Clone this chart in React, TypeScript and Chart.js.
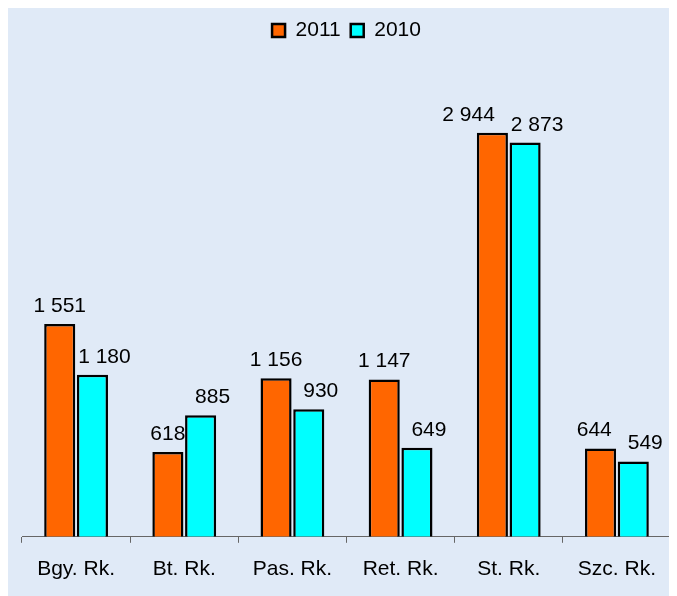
import React, { useEffect, useRef } from "react";
import { Chart, registerables } from "chart.js";

Chart.register(...registerables);

const categories = ["Bgy. Rk.", "Bt. Rk.", "Pas. Rk.", "Ret. Rk.", "St. Rk.", "Szc. Rk."];
const series2011 = [1551, 618, 1156, 1147, 2944, 644];
const series2010 = [1180, 885, 930, 649, 2873, 549];
const seriesLabels = ["2011", "2010"];

const fmt = (v: number) => String(v).replace(/\B(?=(\d{3})+(?!\d))/g, " ");

const FAMILY = '"Liberation Sans", Arial, sans-serif';
const LABEL_FONT = `21px ${FAMILY}`;
const LABEL_SHIFT = [0, 12];
const LABEL_GAP = 16;

const bgPlugin = {
  id: "bg",
  beforeDraw(chart: any) {
    const { ctx, width, height } = chart;
    ctx.save();
    ctx.fillStyle = "#e0eaf7";
    ctx.fillRect(0, 0, width, height);
    ctx.restore();
  },
};

const labelPlugin = {
  id: "valueLabels",
  afterDatasetsDraw(chart: any) {
    const { ctx } = chart;
    ctx.save();
    ctx.font = LABEL_FONT;
    ctx.fillStyle = "#000";
    ctx.textAlign = "center";
    ctx.textBaseline = "alphabetic";
    const m0 = chart.getDatasetMeta(0);
    const m1 = chart.getDatasetMeta(1);
    const d0 = chart.data.datasets[0].data as number[];
    const d1 = chart.data.datasets[1].data as number[];
    m0.data.forEach((b0: any, i: number) => {
      const b1: any = m1.data[i];
      const t0 = fmt(d0[i]);
      const t1 = fmt(d1[i]);
      const w0 = ctx.measureText(t0).width;
      const w1 = ctx.measureText(t1).width;
      let x0 = b0.x + LABEL_SHIFT[0];
      const x1 = b1.x + LABEL_SHIFT[1];
      const y0 = b0.y - 12;
      const y1 = b1.y - 12;
      if (Math.abs(y0 - y1) < 21) {
        const right0 = x0 + w0 / 2;
        const left1 = x1 - w1 / 2;
        if (right0 + LABEL_GAP > left1) x0 -= right0 + LABEL_GAP - left1;
      }
      ctx.fillText(t0, x0, y0);
      ctx.fillText(t1, x1, y1);
    });
    ctx.restore();
  },
};

export default function App() {
  const ref = useRef<HTMLCanvasElement | null>(null);
  useEffect(() => {
    if (!ref.current) return;
    const chart = new Chart(ref.current, {
      type: "bar",
      data: {
        labels: categories,
        datasets: [
          {
            label: seriesLabels[0],
            data: series2011,
            backgroundColor: "#ff6600",
            borderColor: "#000",
            borderWidth: 2.5,
            categoryPercentage: 0.605,
            barPercentage: 0.95,
          },
          {
            label: seriesLabels[1],
            data: series2010,
            backgroundColor: "#00ffff",
            borderColor: "#000",
            borderWidth: 2.5,
            categoryPercentage: 0.605,
            barPercentage: 0.95,
          },
        ],
      },
      options: {
        animation: false,
        responsive: false,
        layout: { padding: { top: 2, left: 14, right: 6, bottom: 0 } },
        plugins: {
          legend: {
            position: "top",
            labels: {
              boxWidth: 13,
              boxHeight: 13,
              padding: 10,
              color: "#000",
              font: { family: FAMILY, size: 21 },
            },
          },
          tooltip: { enabled: false },
        },
        scales: {
          x: {
            grid: {
              display: true,
              drawOnChartArea: false,
              drawTicks: true,
              tickLength: 6,
              color: "#666",
              offset: true,
            },
            border: { display: true, color: "#666", width: 1 },
            ticks: {
              color: "#000",
              padding: 14,
              font: { family: FAMILY, size: 21 },
            },
          },
          y: {
            display: false,
            min: 0,
            max: 3540,
          },
        },
      },
      plugins: [bgPlugin, labelPlugin],
    });
    return () => chart.destroy();
  }, []);
  return <canvas ref={ref} width={669} height={588} style={{ display: "block" }} />;
}
